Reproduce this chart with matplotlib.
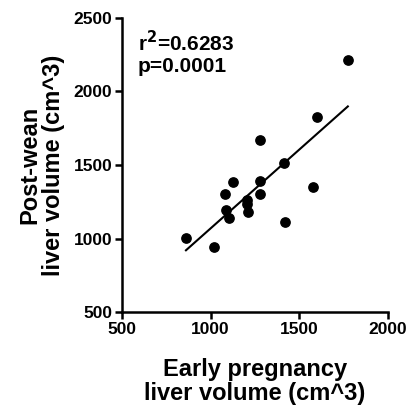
import numpy as np
import matplotlib.pyplot as plt

plt.rcParams['font.family'] = ['Liberation Sans', 'DejaVu Sans']
plt.rcParams['font.weight'] = 'bold'

# early pregnancy vs post-wean liver volume (cm^3)
early = [861, 1017, 1083, 1124, 1087, 1101, 1203, 1203, 1208, 1280,
         1278, 1277, 1414, 1420, 1575, 1602, 1773]
postwean = [1001, 944, 1301, 1384, 1192, 1137, 1262, 1233, 1180, 1668,
            1393, 1301, 1514, 1112, 1350, 1829, 2214]
xticks = [500, 1000, 1500, 2000]
yticks = [500, 1000, 1500, 2000, 2500]

fig = plt.figure(figsize=(4.09, 4.07), dpi=100)
ax = fig.add_axes([0.298, 0.233, 0.651, 0.723])

ax.scatter(early, postwean, s=45, color='black', zorder=3)

# linear regression line over the data range
m, b = np.polyfit(early, postwean, 1)
xs = np.array([min(early), max(early)])
ax.plot(xs, m * xs + b, color='black', lw=1.5)

ax.set_xlim(500, 2000)
ax.set_ylim(500, 2500)
ax.set_xticks(xticks)
ax.set_yticks(yticks)
ax.tick_params(width=1.8, length=5, labelsize=12.5, pad=2)
for lab in ax.get_xticklabels() + ax.get_yticklabels():
    lab.set_fontweight('bold')
for s in ['top', 'right']:
    ax.spines[s].set_visible(False)
for s in ['left', 'bottom']:
    ax.spines[s].set_linewidth(1.8)

ax.set_xlabel('Early pregnancy\nliver volume (cm^3)', fontsize=17,
              fontweight='bold', linespacing=1.05, labelpad=15)
ax.set_ylabel('Post-wean\nliver volume (cm^3)', fontsize=17,
              fontweight='bold', linespacing=1.05, labelpad=6)

ax.text(0.06, 0.96, 'r$^\\mathbf{2}$=0.6283\np=0.0001', transform=ax.transAxes,
        fontsize=15, fontweight='bold', va='top', ha='left', linespacing=1.15)

fig.savefig('out.png', dpi=100)
